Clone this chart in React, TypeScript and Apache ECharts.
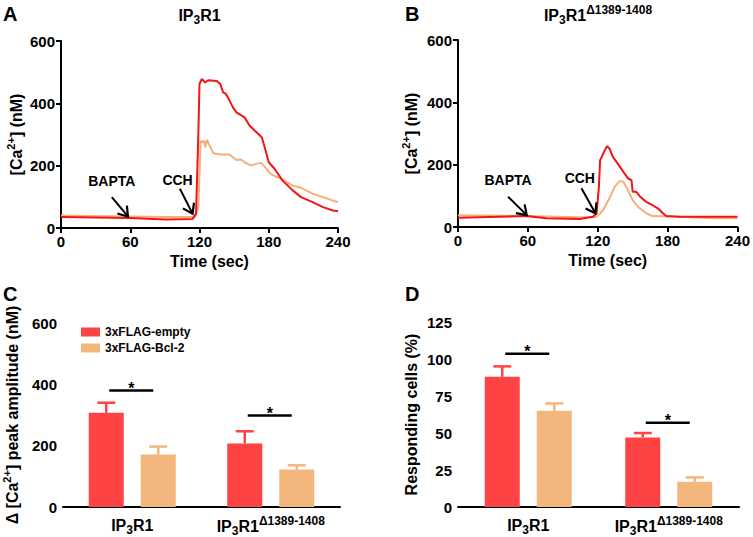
import React, { useEffect, useRef } from 'react';
import * as echarts from 'echarts';

const FONT = '"Liberation Sans", Arial, Helvetica, sans-serif';

// ---- Panel A / B: [time (s), Ca2+ (nM)] ----
const traceA_empty: number[][] = [
  [0, 35], [30, 34], [60, 32], [91, 27], [114, 29], [117, 46], [119, 300], [120, 462], [122, 478],
  [125, 467], [127.5, 474], [135, 472], [138, 462], [140.5, 435], [143, 430], [149, 387], [152, 371],
  [159, 355], [163.5, 328], [168, 312], [174, 291], [176.5, 259], [180, 211], [185, 190], [192, 152],
  [201, 120], [208, 99], [218, 83], [227, 67], [235.6, 56], [240, 54],
];
const traceA_bcl: number[][] = [
  [0, 40], [60, 37], [91, 35], [116, 35], [119, 67], [121, 280], [122.5, 275], [124, 280], [125, 259],
  [126.6, 283], [128, 270], [132, 240], [137.6, 236], [146, 236], [152, 218], [156, 220], [159, 211],
  [165, 200], [168, 205], [173.6, 209], [178, 190], [182, 172], [192, 155], [201, 136], [208, 129],
  [218, 110], [227, 99], [235.6, 88], [240, 83],
];
const traceB_empty: number[][] = [
  [0, 30], [59, 35], [76, 28], [104.6, 26], [116, 33], [119, 44], [121, 129], [122, 214], [126, 246],
  [128, 259], [130, 252], [133, 225], [137, 204], [142, 177], [146, 156], [149, 150], [150, 113],
  [153, 113], [157, 95], [161.6, 81], [167, 70], [171.6, 60], [176, 44], [178.7, 35], [190, 33],
  [218.6, 33], [240, 33],
];
const traceB_bcl: number[][] = [
  [0, 38], [59, 35], [104.6, 31], [119, 33], [124.6, 54], [130, 92], [134.5, 129], [139, 148],
  [142, 145], [146, 118], [150, 86], [154.5, 65], [161.6, 44], [167, 35], [190, 33], [218.6, 28], [240, 28],
];
// annotations: arrow tail (t, nM), arrow tip (t, nM), label centre (t, nM)
const arrowLabels = ['BAPTA', 'CCH'];
const arrowsA: number[][] = [
  [44, 99, 58, 37, 44, 152],
  [103, 126, 114, 46, 101, 155],
];
const arrowsB: number[][] = [
  [43, 97, 59, 38, 43, 150],
  [106, 124, 118, 44, 104.6, 158],
];
const timeTicks = { min: 0, max: 240, interval: 60 };

// ---- Panel C / D ----
const categories = ['IP3R1', 'IP3R1Δ1389-1408'];
const seriesNames = ['3xFLAG-empty', '3xFLAG-Bcl-2'];
const ampEmpty = [307, 207];
const ampEmptyErr = [33, 40];
const ampBcl = [171, 122];
const ampBclErr = [26, 14];
const respEmpty = [88, 47];
const respEmptyErr = [7, 3];
const respBcl = [65, 17];
const respBclErr = [5, 3];
const sigC: number[][] = [[0, 380], [1, 298]];
const sigD: number[][] = [[0, 103.5], [1, 57]];

const RED_LINE = '#F21515';
const ORANGE_LINE = '#F5B07A';
const RED_BAR = '#FD4343';
const ORANGE_BAR = '#F3B67C';

const BAR_W = 35;
const BAR_GAP = 17;
const OFFSET = (BAR_W + BAR_GAP) / 2;

const grids = [
  { left: 61, top: 41, width: 277, height: 187 },
  { left: 458, top: 40, width: 280, height: 187 },
  { left: 59, top: 323, width: 281, height: 187 },
  { left: 458, top: 322, width: 281, height: 186 },
];

const richFor = (size: number) => ({
  b: { fontSize: size, fontWeight: 'bold', fontFamily: FONT, color: '#000' },
  sub: { fontSize: Math.round(size * 0.72), fontWeight: 'bold', fontFamily: FONT, color: '#000', padding: [Math.round(size * 0.55), 0, 0, 0] },
  sup: { fontSize: Math.round(size * 0.72), fontWeight: 'bold', fontFamily: FONT, color: '#000', padding: [0, 0, Math.round(size * 0.7), 0] },
});

const ip3Rich = (name: string) => {
  const i = name.indexOf('Δ');
  const base = '{b|IP}{sub|3}{b|R1}';
  return i >= 0 ? base + '{sup|' + name.slice(i) + '}' : base;
};

const axisCommon = {
  axisLine: { lineStyle: { color: '#000', width: 2 } },
  axisTick: { length: 5, lineStyle: { color: '#000', width: 2 } },
  axisLabel: { color: '#000', fontWeight: 'bold', fontSize: 15, fontFamily: FONT, margin: 6 },
  splitLine: { show: false },
};

const nameStyle = {
  color: '#000', fontWeight: 'bold', fontSize: 16, fontFamily: FONT,
  rich: { sup: { fontSize: 11, fontWeight: 'bold', fontFamily: FONT, color: '#000', padding: [0, 0, 11, 0] } },
};

const arrowRender = (params: any, api: any) => {
  const tail = api.coord([api.value(0), api.value(1)]);
  const tip = api.coord([api.value(2), api.value(3)]);
  const lab = api.coord([api.value(4), api.value(5)]);
  const ang = Math.atan2(tip[1] - tail[1], tip[0] - tail[0]);
  const L = 11, a = 0.6;
  const h1 = [tip[0] - L * Math.cos(ang - a), tip[1] - L * Math.sin(ang - a)];
  const h2 = [tip[0] - L * Math.cos(ang + a), tip[1] - L * Math.sin(ang + a)];
  return {
    type: 'group',
    children: [
      { type: 'line', shape: { x1: tail[0], y1: tail[1], x2: tip[0], y2: tip[1] }, style: { stroke: '#000', lineWidth: 2 } },
      { type: 'polyline', shape: { points: [h1, tip, h2] }, style: { stroke: '#000', lineWidth: 2.2, fill: null } },
      {
        type: 'text', x: lab[0], y: lab[1],
        style: { text: arrowLabels[params.dataIndex], fontSize: 14, fontWeight: 'bold', fontFamily: FONT, fill: '#000', align: 'center', verticalAlign: 'middle' },
      },
    ],
  };
};

const errRender = (sign: number, color: string) => (params: any, api: any) => {
  const base = api.coord([api.value(0), api.value(1)]);
  const top = api.coord([api.value(0), api.value(2)]);
  const x = base[0] + sign * OFFSET;
  return {
    type: 'group',
    children: [
      { type: 'line', shape: { x1: x, y1: base[1], x2: x, y2: top[1] }, style: { stroke: color, lineWidth: 2.5 } },
      { type: 'line', shape: { x1: x - 9, y1: top[1], x2: x + 9, y2: top[1] }, style: { stroke: color, lineWidth: 2.5 } },
    ],
  };
};

const sigRender = (params: any, api: any) => {
  const c = api.coord([api.value(0), api.value(1)]);
  return {
    type: 'group',
    children: [
      { type: 'line', shape: { x1: c[0] - 23, y1: c[1], x2: c[0] + 21, y2: c[1] }, style: { stroke: '#000', lineWidth: 2.5 } },
      {
        type: 'text', x: c[0] - 1, y: c[1] + 6,
        style: { text: '*', fontSize: 16, fontWeight: 'bold', fontFamily: FONT, fill: '#000', align: 'center', verticalAlign: 'bottom' },
      },
    ],
  };
};

const lineSeries = (name: string, data: number[][], color: string, idx: number) => ({
  type: 'line', name, data, xAxisIndex: idx, yAxisIndex: idx, showSymbol: false, symbol: 'none',
  lineStyle: { color, width: 2 }, itemStyle: { color }, z: 3,
});

const barSeries = (name: string, data: number[], color: string, idx: number) => ({
  type: 'bar', name, data, xAxisIndex: idx, yAxisIndex: idx, barWidth: BAR_W,
  barGap: `${(BAR_GAP / BAR_W) * 100}%`, itemStyle: { color },
});

const errSeries = (vals: number[], errs: number[], sign: number, color: string, idx: number) => ({
  type: 'custom', xAxisIndex: idx, yAxisIndex: idx, clip: false, z: 4,
  data: vals.map((v, i) => [i, v, v + errs[i]]),
  encode: { x: 0, y: [1, 2] },
  renderItem: errRender(sign, color),
});

const sigSeries = (data: number[][], idx: number) => ({
  type: 'custom', xAxisIndex: idx, yAxisIndex: idx, clip: false, z: 5,
  data, encode: { x: 0, y: 1 }, renderItem: sigRender,
});

const arrowSeries = (data: number[][], idx: number) => ({
  type: 'custom', xAxisIndex: idx, yAxisIndex: idx, clip: false, z: 6,
  data, encode: { x: [0, 2, 4], y: [1, 3, 5] }, renderItem: arrowRender,
});

const panelLetter = (t: string, x: number, y: number) => ({
  type: 'text', left: x, top: y,
  style: { text: t, fontSize: 20, fontWeight: 'bold', fontFamily: FONT, fill: '#000' },
});

const titleText = (name: string, g: any) => ({
  type: 'text', x: g.left + g.width / 2, y: 15,
  style: { text: ip3Rich(name), rich: richFor(16), align: 'center', verticalAlign: 'middle' },
});

export default function App() {
  const ref = useRef<HTMLDivElement>(null);
  useEffect(() => {
    if (!ref.current) return;
    const chart = echarts.init(ref.current, undefined, { renderer: 'svg' });
    const timeAxis = (idx: number) => ({
      type: 'value', gridIndex: idx, ...timeTicks, ...axisCommon,
      name: 'Time (sec)', nameLocation: 'middle', nameGap: 25,
      nameTextStyle: { ...nameStyle, padding: [0, 0, 0, 20] },
    });
    const catAxis = (idx: number) => ({
      type: 'category', gridIndex: idx, data: categories, ...axisCommon,
      axisTick: { ...axisCommon.axisTick, alignWithLabel: true },
      axisLabel: {
        ...axisCommon.axisLabel, margin: 8, interval: 0, hideOverlap: false,
        formatter: (v: string) => ip3Rich(v), rich: richFor(16),
      },
    });
    const option: any = {
      animation: false,
      backgroundColor: '#fff',
      textStyle: { fontFamily: FONT },
      grid: grids.map((g) => ({ ...g, containLabel: false })),
      legend: {
        data: seriesNames, orient: 'vertical', left: 76, top: 321, icon: 'rect',
        itemWidth: 19, itemHeight: 9, itemGap: 4,
        textStyle: { fontWeight: 'bold', fontSize: 12, fontFamily: FONT, color: '#000' },
      },
      xAxis: [timeAxis(0), timeAxis(1), catAxis(2), catAxis(3)],
      yAxis: [
        { type: 'value', gridIndex: 0, min: 0, max: 600, interval: 200, ...axisCommon, name: '[Ca{sup|2+}] (nM)', nameLocation: 'middle', nameGap: 34, nameTextStyle: nameStyle },
        { type: 'value', gridIndex: 1, min: 0, max: 600, interval: 200, ...axisCommon, name: '[Ca{sup|2+}] (nM)', nameLocation: 'middle', nameGap: 36, nameTextStyle: nameStyle },
        { type: 'value', gridIndex: 2, min: 0, max: 600, interval: 200, ...axisCommon, name: 'Δ [Ca{sup|2+}] peak amplitude (nM)', nameLocation: 'middle', nameGap: 40, nameTextStyle: nameStyle },
        { type: 'value', gridIndex: 3, min: 0, max: 125, interval: 25, ...axisCommon, name: 'Responding cells (%)', nameLocation: 'middle', nameGap: 39, nameTextStyle: nameStyle },
      ],
      series: [
        lineSeries('A Bcl-2', traceA_bcl, ORANGE_LINE, 0),
        lineSeries('A empty', traceA_empty, RED_LINE, 0),
        lineSeries('B Bcl-2', traceB_bcl, ORANGE_LINE, 1),
        lineSeries('B empty', traceB_empty, RED_LINE, 1),
        arrowSeries(arrowsA, 0),
        arrowSeries(arrowsB, 1),
        barSeries(seriesNames[0], ampEmpty, RED_BAR, 2),
        barSeries(seriesNames[1], ampBcl, ORANGE_BAR, 2),
        errSeries(ampEmpty, ampEmptyErr, -1, RED_BAR, 2),
        errSeries(ampBcl, ampBclErr, 1, ORANGE_BAR, 2),
        sigSeries(sigC, 2),
        barSeries(seriesNames[0], respEmpty, RED_BAR, 3),
        barSeries(seriesNames[1], respBcl, ORANGE_BAR, 3),
        errSeries(respEmpty, respEmptyErr, -1, RED_BAR, 3),
        errSeries(respBcl, respBclErr, 1, ORANGE_BAR, 3),
        sigSeries(sigD, 3),
      ],
      graphic: [
        panelLetter('A', 3, 4),
        panelLetter('B', 405, 4),
        panelLetter('C', 3, 284),
        panelLetter('D', 405, 284),
        titleText(categories[0], grids[0]),
        titleText(categories[1], grids[1]),
      ],
    };
    chart.setOption(option);
    return () => chart.dispose();
  }, []);
  return (
    <div
      ref={ref}
      style={{ position: 'fixed', left: 0, top: 0, width: 753, height: 537, background: '#fff' }}
    />
  );
}
